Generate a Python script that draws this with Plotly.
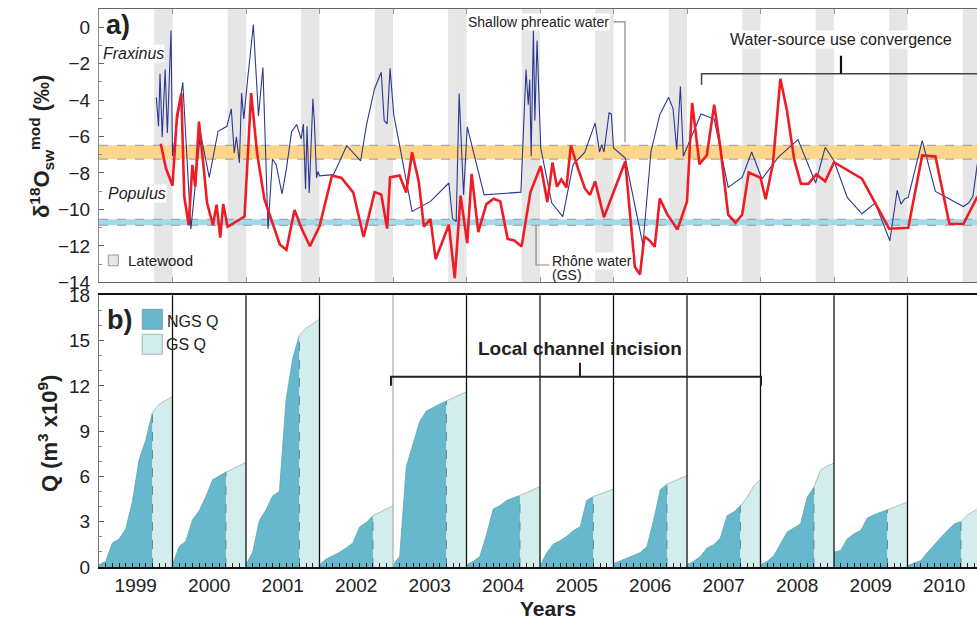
import plotly.graph_objects as go

FONT = "Liberation Sans, Arial, Helvetica, sans-serif"

YEARS = list(range(1999, 2011))

# ---- panel a: modelled source-water d18O ----
FRAX_T = [1999.78, 1999.81, 1999.83, 1999.86, 1999.90, 1999.93, 1999.98, 2000.00, 2000.14, 2000.25,
          2000.38, 2000.50, 2000.62, 2000.74, 2000.80, 2000.84, 2000.87, 2000.91, 2000.94, 2000.97,
          2001.02, 2001.10, 2001.17, 2001.23, 2001.30, 2001.36, 2001.41, 2001.49, 2001.55, 2001.62,
          2001.69, 2001.75, 2001.78, 2001.81, 2001.83, 2001.86, 2001.91, 2001.93, 2001.96, 2001.98,
          2002.00, 2002.19, 2002.37, 2002.56, 2002.64, 2002.75, 2002.84, 2002.88, 2002.92, 2002.96,
          2003.01, 2003.26, 2003.51, 2003.76, 2003.81, 2003.86, 2003.90, 2003.96, 2004.01, 2004.24,
          2004.74, 2004.81, 2004.84, 2004.86, 2004.88, 2004.91, 2004.93, 2004.96, 2005.01, 2005.16,
          2005.31, 2005.45, 2005.61, 2005.75, 2005.81, 2005.84, 2005.87, 2005.94, 2005.97, 2006.00,
          2006.16, 2006.40, 2006.51, 2006.63, 2006.75, 2006.81, 2006.86, 2006.91, 2006.95, 2007.19,
          2007.37, 2007.56, 2007.75, 2007.88, 2008.02, 2008.24, 2008.51, 2008.75, 2008.88, 2009.00,
          2009.18, 2009.38, 2009.56, 2009.76, 2009.86, 2009.91, 2009.96, 2010.01, 2010.20, 2010.38,
          2010.76, 2010.83, 2010.89, 2010.95]
FRAX_V = [-3.85, -5.44, -2.55, -6.02, -2.32, -5.80, -0.18, -7.08, -3.02, -11.08,
          -5.80, -8.24, -5.71, -5.44, -4.48, -6.90, -6.02, -7.45, -3.61, -5.04,
          -2.95, 0.15, -4.89, -2.21, -11.08, -7.23, -7.54, -9.15, -7.77, -5.73,
          -5.35, -6.13, -5.31, -8.88, -5.44, -9.10, -3.93, -5.16, -8.27, -7.91,
          -8.16, -8.09, -6.50, -7.33, -5.35, -3.36, -2.47, -5.12, -5.31, -2.26,
          -4.80, -10.11, -9.56, -8.55, -10.51, -10.66, -3.64, -9.20, -5.47, -9.20,
          -9.05, -2.32, -4.25, -2.87, -7.08, -0.15, -5.12, -0.73, -6.63, -9.65,
          -10.39, -7.54, -6.86, -5.25, -6.85, -6.44, -6.85, -4.70, -4.76, -6.63,
          -7.18, -11.94, -6.82, -4.80, -3.85, -4.47, -6.72, -3.25, -7.08, -4.76,
          -5.04, -8.79, -8.24, -6.85, -8.33, -7.14, -6.17, -8.55, -6.59, -7.33,
          -9.34, -10.24, -9.65, -11.72, -8.95, -9.71, -9.43, -9.34, -6.23, -9.01,
          -9.84, -9.65, -9.28, -7.50]

POP_T = [1999.84, 1999.91, 2000.00, 2000.06, 2000.12, 2000.16, 2000.22, 2000.27, 2000.31, 2000.36,
         2000.42, 2000.47, 2000.55, 2000.60, 2000.65, 2000.69, 2000.75, 2000.98, 2001.07, 2001.15,
         2001.25, 2001.46, 2001.55, 2001.66, 2001.76, 2001.87, 2002.00, 2002.17, 2002.30, 2002.46,
         2002.60, 2002.75, 2002.84, 2002.92, 2002.96, 2003.09, 2003.18, 2003.26, 2003.35, 2003.42,
         2003.51, 2003.58, 2003.76, 2003.84, 2003.92, 2004.01, 2004.07, 2004.16, 2004.27, 2004.37,
         2004.46, 2004.56, 2004.65, 2004.75, 2004.87, 2005.01, 2005.10, 2005.17, 2005.23, 2005.29,
         2005.36, 2005.42, 2005.52, 2005.61, 2005.68, 2005.75, 2005.87, 2006.16, 2006.29, 2006.36,
         2006.42, 2006.49, 2006.56, 2006.63, 2006.73, 2006.87, 2007.00, 2007.07, 2007.17, 2007.27,
         2007.37, 2007.45, 2007.56, 2007.66, 2007.75, 2007.84, 2008.00, 2008.07, 2008.17, 2008.27,
         2008.36, 2008.46, 2008.55, 2008.65, 2008.76, 2008.88, 2009.00, 2009.38, 2009.75, 2010.01,
         2010.20, 2010.38, 2010.57, 2010.76, 2010.95]
POP_V = [-6.39, -7.73, -8.69, -4.89, -3.64, -9.28, -10.87, -7.56, -8.75, -5.18,
         -7.54, -9.64, -10.87, -9.74, -11.55, -9.70, -10.95, -10.39, -3.62, -6.88,
         -9.44, -11.92, -12.22, -10.03, -11.08, -12.02, -10.92, -8.14, -8.27, -9.08,
         -11.51, -9.05, -9.18, -11.05, -8.24, -8.14, -9.07, -6.86, -8.46, -10.94,
         -10.53, -12.73, -10.84, -13.77, -9.24, -11.85, -8.05, -11.24, -9.71, -9.41,
         -9.56, -11.62, -11.70, -12.03, -9.05, -7.62, -9.59, -7.43, -8.75, -8.36,
         -8.80, -6.48, -7.79, -8.85, -9.20, -8.46, -10.43, -7.37, -13.15, -13.57,
         -11.49, -11.70, -12.05, -9.40, -10.26, -11.11, -9.56, -4.15, -7.52, -7.02,
         -4.25, -6.49, -10.29, -10.73, -10.29, -7.97, -8.26, -9.44, -7.47, -2.83,
         -4.57, -7.28, -8.59, -8.60, -8.07, -8.46, -7.41, -8.31, -11.06, -11.01,
         -7.04, -7.10, -10.79, -10.80, -9.30]

SHALLOW_BAND = [-7.24, -6.48]
RHONE_BAND = [-10.87, -10.54]
LATEWOOD_START = 0.75   # fraction of the year

# ---- panel b: cumulative discharge, 12 points per year at k/11 of the year ----
Q1999 = [0.15, 0.37, 1.59, 1.85, 2.51, 4.34, 7.10, 8.42, 10.23, 10.79, 11.05, 11.29]
Q2000 = [0.15, 1.36, 1.70, 3.13, 3.73, 4.67, 5.78, 6.04, 6.29, 6.50, 6.71, 6.92]
Q2001 = [0.15, 0.97, 3.08, 3.79, 4.72, 5.00, 11.07, 13.83, 15.37, 15.82, 16.12, 16.41]
Q2002 = [0.15, 0.53, 0.75, 0.97, 1.26, 1.59, 2.65, 2.95, 3.40, 3.62, 3.84, 4.06]
Q2003 = [0.15, 0.70, 6.66, 8.21, 9.64, 10.34, 10.59, 10.80, 11.00, 11.20, 11.41, 11.62]
Q2004 = [0.15, 0.37, 0.70, 2.14, 3.84, 4.06, 4.41, 4.58, 4.74, 4.94, 5.13, 5.33]
Q2005 = [0.05, 0.93, 1.52, 1.74, 2.03, 2.42, 2.65, 4.41, 4.67, 4.83, 5.00, 5.16]
Q2006 = [0.22, 0.42, 0.60, 0.77, 0.95, 1.36, 3.08, 5.12, 5.49, 5.68, 5.87, 6.06]
Q2007 = [0.15, 0.37, 0.70, 1.26, 1.48, 1.92, 3.40, 3.64, 4.06, 4.63, 5.38, 5.82]
Q2008 = [0.15, 0.37, 0.75, 1.52, 2.32, 2.58, 2.87, 4.63, 5.29, 6.44, 6.70, 6.88]
Q2009 = [0.97, 1.10, 1.87, 2.20, 2.42, 3.24, 3.46, 3.62, 3.79, 3.96, 4.13, 4.30]
Q2010 = [0.10, 0.26, 0.42, 0.97, 1.48, 1.96, 2.42, 2.85, 3.02, 3.46, 3.73, 3.90]
Q_YEARS = [Q1999, Q2000, Q2001, Q2002, Q2003, Q2004, Q2005, Q2006, Q2007, Q2008, Q2009, Q2010]
STEPS = 11
NGS_END = 8  # index where growing season (GS) starts

assert len(FRAX_T) == len(FRAX_V), (len(FRAX_T), len(FRAX_V))
assert len(POP_T) == len(POP_V), (len(POP_T), len(POP_V))

X0 = 1999.0
X1 = 1999.0 + 878 / 73.5
Y_TOP = [-14, 1]
Y_BOT = [0, 18]

NGS_COL = "#67b8cc"
GS_COL = "#d3ecec"
TXT = "#222222"

fig = go.Figure()

# Panel a lines
fig.add_trace(go.Scatter(x=FRAX_T, y=FRAX_V, mode="lines", line=dict(color="#2b3990", width=1.1),
                         xaxis="x", yaxis="y", hoverinfo="skip"))
fig.add_trace(go.Scatter(x=POP_T, y=POP_V, mode="lines", line=dict(color="#ee1c25", width=2.6),
                         xaxis="x", yaxis="y", hoverinfo="skip"))

# Panel b fills
for yr, q in zip(YEARS, Q_YEARS):
    xs = [yr + k / STEPS for k in range(len(q))]
    fig.add_trace(go.Scatter(x=xs[:NGS_END + 1], y=q[:NGS_END + 1], mode="lines", fill="tozeroy",
                             fillcolor=NGS_COL, line=dict(color="#5aa6b8", width=0.8),
                             xaxis="x2", yaxis="y2", hoverinfo="skip"))
    fig.add_trace(go.Scatter(x=xs[NGS_END:], y=q[NGS_END:], mode="lines", fill="tozeroy",
                             fillcolor=GS_COL, line=dict(color="#9fb3b6", width=0.8),
                             xaxis="x2", yaxis="y2", hoverinfo="skip"))
    s = xs[NGS_END]
    fig.add_trace(go.Scatter(x=[s, s], y=[0, q[NGS_END]], mode="lines",
                             line=dict(color="#5d8c98", width=1, dash="dash"),
                             xaxis="x2", yaxis="y2", hoverinfo="skip"))

shapes = []
# latewood bands
for yr in YEARS:
    shapes.append(dict(type="rect", xref="x", yref="y domain", x0=yr + LATEWOOD_START, x1=yr + 1,
                       y0=0, y1=1, fillcolor="#e6e6e6", line=dict(width=0), layer="below"))
# horizontal source bands
for band, col in ((SHALLOW_BAND, "#fdd68c"), (RHONE_BAND, "#a3d9ea")):
    shapes.append(dict(type="rect", xref="x domain", yref="y", x0=0, x1=1, y0=band[0], y1=band[1],
                       fillcolor=col, line=dict(width=0), layer="below"))
    for v in band:
        shapes.append(dict(type="line", xref="x domain", yref="y", x0=0, x1=1, y0=v, y1=v,
                           line=dict(color="#9a9a9a", width=1, dash="dash"), layer="below"))
# year boundaries in panel b
for yr in YEARS[1:]:
    shapes.append(dict(type="line", xref="x2", yref="y2 domain", x0=yr, x1=yr, y0=0, y1=1,
                       line=dict(color="#b0b0b0" if yr == 2003 else "#111111", width=1.3)))

# latewood legend box
shapes.append(dict(type="rect", xref="x", yref="y", x0=1999.127, x1=1999.263, y0=-13.09, y1=-12.50,
                   fillcolor="#e6e6e6", line=dict(color="#999999", width=1)))
# leader lines
shapes.append(dict(type="path", xref="x", yref="y",
                   path="M 2006.0 0.29 L 2006.156 0.29 L 2006.156 -6.3",
                   line=dict(color="#888888", width=1.2)))
shapes.append(dict(type="path", xref="x", yref="y",
                   path="M 2004.946 -10.87 L 2004.946 -13.05 L 2005.127 -13.05",
                   line=dict(color="#888888", width=1.2)))
# convergence bracket
shapes.append(dict(type="path", xref="x", yref="y",
                   path=f"M 2007.198 -3.16 L 2007.198 -2.56 L {X1} -2.56",
                   line=dict(color="#444444", width=1.5)))
shapes.append(dict(type="line", xref="x", yref="y", x0=2009.095, x1=2009.095, y0=-1.57, y1=-2.56,
                   line=dict(color="#111111", width=2.2)))
# incision bracket
shapes.append(dict(type="path", xref="x2", yref="y2",
                   path="M 2002.973 12.0 L 2002.973 12.61 L 2008.007 12.61 L 2008.007 12.0",
                   line=dict(color="#222222", width=2)))
shapes.append(dict(type="line", xref="x2", yref="y2", x0=2005.544, x1=2005.544, y0=12.61, y1=13.54,
                   line=dict(color="#222222", width=2)))
# legend boxes panel b
shapes.append(dict(type="rect", xref="x2", yref="y2", x0=1999.589, x1=1999.861, y0=15.75, y1=17.07,
                   fillcolor=NGS_COL, line=dict(color="#7aa0a8", width=1)))
shapes.append(dict(type="rect", xref="x2", yref="y2", x0=1999.589, x1=1999.861, y0=14.10, y1=15.42,
                   fillcolor=GS_COL, line=dict(color="#9fb3b6", width=1)))

ann = []
def A(text, x, y, xref="x", yref="y", size=16, xanchor="left", yanchor="middle", bold=False,
      italic=False, bg=None, angle=0):
    t = text
    if bold:
        t = f"<b>{t}</b>"
    if italic:
        t = f"<i>{t}</i>"
    d = dict(text=t, x=x, y=y, xref=xref, yref=yref, showarrow=False, xanchor=xanchor,
             yanchor=yanchor, font=dict(family=FONT, size=size, color=TXT), textangle=angle,
             borderpad=0)
    if bg:
        d["bgcolor"] = bg
    ann.append(d)

A("a)", 1999.08, 0.14, size=27, bold=True)
A("Fraxinus", 1999.034, -1.42, size=16, italic=True, bg="white")
A("Populus", 1999.113, -9.11, size=16, italic=True, bg="white")
A("Latewood", 1999.377, -12.78, size=15)
A("Shallow phreatic water", 2004.003, 0.29, size=14, bg="white")
A("Rhône water", 2005.145, -12.82, size=14, bg="white")
A("(GS)", 2005.145, -13.62, size=14)
A("Water-source use convergence", 2009.09, -0.69, size=16, xanchor="center", bg="white")

A("b)", 1999.095, 16.37, xref="x2", yref="y2", size=27, bold=True)
A("NGS Q", 1999.912, 16.25, xref="x2", yref="y2", size=16)
A("GS Q", 1999.898, 14.76, xref="x2", yref="y2", size=16)
A("Local channel incision", 2005.54, 14.45, xref="x2", yref="y2", size=19, xanchor="center", bold=True)

A("δ<sup>18</sup>O<sub>sw</sub><sup>mod</sup> (‰)", -0.0649, 0.7527, xref="paper", yref="paper",
  size=22, xanchor="center", bold=True, angle=-90)
A("Q (m<sup>3</sup> x10<sup>9</sup>)", -0.0581, 0.240, xref="paper", yref="paper",
  size=22, xanchor="center", bold=True, angle=-90)
A("Years", 0.5114, -0.0735, xref="paper", yref="paper", size=21, xanchor="center", bold=True)

tickfont = dict(family=FONT, size=19, color=TXT)

fig.update_layout(
    width=977, height=620,
    margin=dict(l=99, r=0, t=9, b=53),
    paper_bgcolor="white", plot_bgcolor="white",
    showlegend=False,
    shapes=shapes, annotations=ann,
    xaxis=dict(domain=[0, 1], anchor="y", range=[X0, X1], tickvals=YEARS[1:], showticklabels=False,
               ticks="inside", ticklen=5, tickcolor="#999999", showgrid=False, zeroline=False,
               showline=True, linecolor="#666666", linewidth=1, mirror="ticks"),
    yaxis=dict(domain=[0.5102, 1], anchor="x", range=Y_TOP, tickvals=list(range(0, -15, -2)),
               ticks="inside", ticklen=5, tickcolor="#666666", tickfont=tickfont,
               minor=dict(tickvals=list(range(-13, 1, 2)), ticks="inside", ticklen=3, tickcolor="#888888"),
               showgrid=False, zeroline=False, showline=True, linecolor="#888888", linewidth=1,
               ticklabelstandoff=4),
    xaxis2=dict(domain=[0, 1], anchor="y2", range=[X0, X1],
                tickvals=[y + 0.5 for y in YEARS], ticktext=[str(y) for y in YEARS],
                ticks="", tickfont=tickfont, ticklabelstandoff=0,
                minor=dict(tickvals=[y + k / STEPS for y in YEARS for k in range(1, STEPS)],
                           ticks="inside", ticklen=4, tickcolor="#222222", tickwidth=1),
                showgrid=False, zeroline=False, showline=True, linecolor="#111111", linewidth=1.5,
                mirror=True),
    yaxis2=dict(domain=[0, 0.4869], anchor="x2", range=Y_BOT, tickvals=list(range(0, 19, 3)),
                ticks="inside", ticklen=5, tickcolor="#555555", tickfont=tickfont,
                minor=dict(dtick=1, ticks="inside", ticklen=3, tickcolor="#888888"),
                showgrid=False, zeroline=False, showline=True, linecolor="#777777", linewidth=1,
                ticklabelstandoff=4),
)

fig.write_html("out.html")
